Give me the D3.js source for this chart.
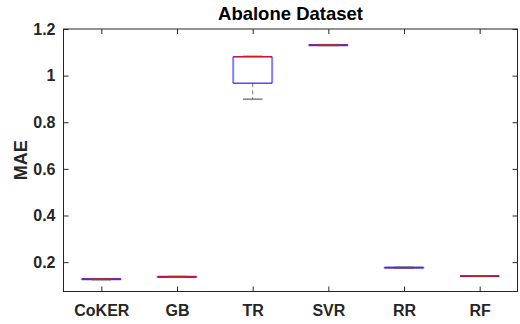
<!DOCTYPE html>
<html><head><meta charset="utf-8">
<script src="https://cdn.jsdelivr.net/npm/d3@7"></script>
<style>body{margin:0;background:#fff}svg{display:block}text{font-family:"Liberation Sans",Arial,sans-serif;font-weight:bold;fill:#262626}</style>
</head><body><svg id="c" width="520" height="324"></svg>
<script>
const categories = ["CoKER","GB","TR","SVR","RR","RF"];
const whiskerLow  = [0.1245, 0.1355, 0.899, 1.129, 0.1735, 0.139];
const q1          = [0.1250, 0.1355, 0.967, 1.1295, 0.1745, 0.1390];
const median      = [0.1270, 0.1370, 1.081, 1.131, 0.1760, 0.1400];
const q3          = [0.1290, 0.1385, 1.081, 1.1325, 0.1780, 0.1410];
const whiskerHigh = [0.1290, 0.1385, 1.083, 1.133, 0.1780, 0.1415];
const yTicks = [0.2, 0.4, 0.6, 0.8, 1, 1.2];
const yTickLabels = ["0.2","0.4","0.6","0.8","1","1.2"];

const svg = d3.select("#c");
const L = 63.5, R = 517.5, T = 29, B = 291.5;
const x = d3.scaleLinear().domain([0.5, 6.5]).range([L, R]);
const y = d3.scaleLinear().domain([0.074, 1.2]).range([B, T]);
const axisColor = "#262626";
const bw = (x(2) - x(1)) * 0.515;

const g = svg.append("g");
categories.forEach((c, i) => {
  const cx = x(i + 1);
  g.append("line").attr("x1", cx).attr("x2", cx).attr("y1", y(q3[i])).attr("y2", y(whiskerHigh[i]))
    .attr("stroke", "#808080").attr("stroke-dasharray", "4,3").attr("stroke-width", 1);
  g.append("line").attr("x1", cx).attr("x2", cx).attr("y1", y(q1[i])).attr("y2", y(whiskerLow[i]))
    .attr("stroke", "#808080").attr("stroke-dasharray", "4,3").attr("stroke-width", 1);
  const x0 = cx - bw / 2, x1 = cx + bw / 2;
  [q1[i], q3[i]].forEach(v => {
    g.append("line").attr("x1", x0).attr("x2", x1).attr("y1", y(v)).attr("y2", y(v))
      .attr("stroke", "#0000ff").attr("stroke-opacity", 0.7).attr("stroke-width", 1.5);
  });
  g.append("line").attr("x1", x0).attr("x2", x0).attr("y1", y(q1[i])).attr("y2", y(q3[i]))
    .attr("stroke", "#0000ff").attr("stroke-opacity", 0.5).attr("stroke-width", 2);
  g.append("line").attr("x1", x1).attr("x2", x1).attr("y1", y(q1[i])).attr("y2", y(q3[i]))
    .attr("stroke", "#0000ff").attr("stroke-opacity", 0.5).attr("stroke-width", 2);
  [whiskerHigh[i], whiskerLow[i]].forEach(v => {
    g.append("line").attr("x1", cx - bw / 4).attr("x2", cx + bw / 4).attr("y1", y(v)).attr("y2", y(v))
      .attr("stroke", "#606060").attr("stroke-opacity", 0.8).attr("stroke-width", 1.5);
  });
  g.append("line").attr("x1", x0).attr("x2", x1).attr("y1", y(median[i])).attr("y2", y(median[i]))
    .attr("stroke", "#ff0000").attr("stroke-width", 1);
});

svg.append("rect").attr("x", L).attr("y", T).attr("width", R - L).attr("height", B - T)
  .attr("fill", "none").attr("stroke", axisColor).attr("stroke-width", 1);

const yAxisL = d3.axisLeft(y).tickValues(yTicks).tickFormat((d, i) => yTickLabels[i]).tickSizeInner(-5).tickSizeOuter(0).tickPadding(8);
const gl = svg.append("g").attr("transform", `translate(${L},0)`).call(yAxisL);
const yAxisR = d3.axisRight(y).tickValues(yTicks).tickFormat("").tickSizeInner(-5).tickSizeOuter(0);
const gr = svg.append("g").attr("transform", `translate(${R},0)`).call(yAxisR);
const xAxisB = d3.axisBottom(x).tickValues(d3.range(1, 7)).tickFormat((d) => categories[d - 1]).tickSizeInner(-5).tickSizeOuter(0).tickPadding(13);
const gb = svg.append("g").attr("transform", `translate(0,${B})`).call(xAxisB);
const xAxisT = d3.axisTop(x).tickValues(d3.range(1, 7)).tickFormat("").tickSizeInner(-5).tickSizeOuter(0);
const gt = svg.append("g").attr("transform", `translate(0,${T})`).call(xAxisT);
[gl, gr, gb, gt].forEach(a => {
  a.select(".domain").remove();
  a.selectAll(".tick line").attr("stroke", axisColor);
  a.selectAll(".tick text").attr("fill", axisColor).style("font-size", "16px").style("font-weight", "bold")
    .style("font-family", "'Liberation Sans',Arial,sans-serif");
});

svg.append("text").attr("x", (L + R) / 2).attr("y", 20).attr("text-anchor", "middle")
  .style("font-size", "18.5px").style("fill", "#000").text("Abalone Dataset");
svg.append("text").attr("transform", `translate(27,${(T + B) / 2}) rotate(-90)`).attr("text-anchor", "middle")
  .style("font-size", "18px").text("MAE");
</script></body></html>
